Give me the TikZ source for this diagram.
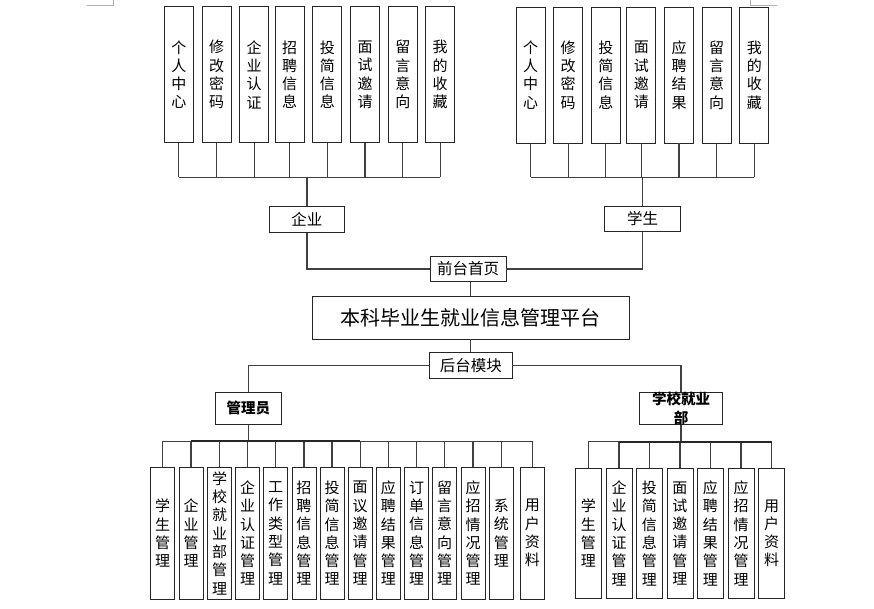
\documentclass[tikz,border=0pt]{standalone}
\usepackage{fontspec}
\setmainfont{Noto Sans CJK SC}
\begin{document}
\begin{tikzpicture}[x=1pt,y=-1pt,
  box/.style={draw=black!85, line width=0.8pt, inner sep=0pt, align=center, fill=white},
  vbox/.style={box, minimum width=29pt, minimum height=136pt, font=\fontsize{15}{18.3}\selectfont},
  bbox/.style={box, minimum width=24pt, minimum height=131.7pt, font=\fontsize{15}{18.3}\selectfont},
  rbox/.style={box, minimum width=26pt, minimum height=130pt, font=\fontsize{15}{18.3}\selectfont},
  hbox/.style={box, font=\fontsize{15.5}{18}\selectfont},
  boldbox/.style={box, minimum height=32pt, font=\fontsize{14.5}{18.5}\selectfont\bfseries},
  conn/.style={draw=black!75, line width=1.2pt},
  thickconn/.style={draw=black!85, line width=1.9pt},
  cornermark/.style={draw=black!30, line width=0.6pt}]
\useasboundingbox (0,0) rectangle (874,609);
\fill[white] (0,0) rectangle (874,609);

% page corner marks
\draw[cornermark] (86.7,5) -- (113.3,5) -- (113.3,0);
\draw[cornermark] (750,0) -- (750,5) -- (776.7,5);

% bus coordinates
\coordinate (busTop) at (0,177.3);
\coordinate (busBL) at (0,441.3);
\coordinate (busBR) at (0,441.7);

% top-left boxes (enterprise)
\node[vbox] (a1) at (178.8,74.7) {个\\人\\中\\心};
\node[vbox] (a2) at (216.7,74.7) {修\\改\\密\\码};
\node[vbox] (a3) at (254.2,74.7) {企\\业\\认\\证};
\node[vbox] (a4) at (289.7,74.7) {招\\聘\\信\\息};
\node[vbox] (a5) at (327.3,74.7) {投\\简\\信\\息};
\node[vbox] (a6) at (365.0,74.7) {面\\试\\邀\\请};
\node[vbox] (a7) at (402.8,74.7) {留\\言\\意\\向};
\node[vbox] (a8) at (440.2,74.7) {我\\的\\收\\藏};

% top-right boxes (student)
\node[vbox] (s1) at (530.5,75) {个\\人\\中\\心};
\node[vbox] (s2) at (568.2,75) {修\\改\\密\\码};
\node[vbox] (s3) at (605.8,75) {投\\简\\信\\息};
\node[vbox] (s4) at (641.3,75) {面\\试\\邀\\请};
\node[vbox] (s5) at (679.0,75) {应\\聘\\结\\果};
\node[vbox] (s6) at (716.7,75) {留\\言\\意\\向};
\node[vbox] (s7) at (754.3,75) {我\\的\\收\\藏};

% middle
\node[hbox, minimum width=75.7pt, minimum height=25.6pt] (qy) at (306.9,219.5) {企业};
\node[hbox, minimum width=76.4pt, minimum height=25.4pt] (xs) at (642.5,219) {学生};
\node[hbox, minimum width=75.7pt, minimum height=25.4pt] (qt) at (468.2,269) {前台首页};
\node[box, minimum width=317pt, minimum height=42.3pt, font=\fontsize{20}{24}\selectfont] (main) at (470.8,317.9) {本科毕业生就业信息管理平台};
\node[hbox, minimum width=82.3pt, minimum height=26pt] (ht) at (470.9,365.7) {后台模块};
\node[boldbox, minimum width=66pt] (gly) at (248.3,408.3) {管理员};
\node[boldbox, minimum width=83.4pt] (xx) at (681,408.3) {学校就业\\部};

% bottom-left boxes (admin)
\node[bbox] (b1) at (162.7,533.2) {学\\生\\管\\理};
\node[bbox] (b2) at (191.0,533.2) {企\\业\\管\\理};
\node[bbox] (b3) at (219.5,533.2) {学\\校\\就\\业\\部\\管\\理};
\node[bbox] (b4) at (247.5,533.2) {企\\业\\认\\证\\管\\理};
\node[bbox] (b5) at (275.7,533.2) {工\\作\\类\\型\\管\\理};
\node[bbox] (b6) at (303.9,533.2) {招\\聘\\信\\息\\管\\理};
\node[bbox] (b7) at (332.0,533.2) {投\\简\\信\\息\\管\\理};
\node[bbox] (b8) at (360.2,533.2) {面\\议\\邀\\请\\管\\理};
\node[bbox] (b9) at (388.3,533.2) {应\\聘\\结\\果\\管\\理};
\node[bbox] (b10) at (416.5,533.2) {订\\单\\信\\息\\管\\理};
\node[bbox] (b11) at (444.7,533.2) {留\\言\\意\\向\\管\\理};
\node[bbox] (b12) at (473.0,533.2) {应\\招\\情\\况\\管\\理};
\node[bbox] (b13) at (501.3,533.2) {系\\统\\管\\理};
\node[bbox] (b14) at (532.3,533.2) {用\\户\\资\\料};

% bottom-right boxes (school employment office)
\node[rbox] (c1) at (588.3,533.3) {学\\生\\管\\理};
\node[rbox] (c2) at (619.0,533.3) {企\\业\\认\\证\\管\\理};
\node[rbox] (c3) at (649.3,533.3) {投\\简\\信\\息\\管\\理};
\node[rbox] (c4) at (679.9,533.3) {面\\试\\邀\\请\\管\\理};
\node[rbox] (c5) at (710.3,533.3) {应\\聘\\结\\果\\管\\理};
\node[rbox] (c6) at (741.0,533.3) {应\\招\\情\\况\\管\\理};
\node[rbox] (c7) at (771.7,533.3) {用\\户\\资\\料};

% connectors: top-left
\foreach \n in {a1,a2,a3,a4,a5,a6,a7,a8}
  \draw[conn] (\n.south) -- (\n.south |- busTop);
\draw[conn] (a1.south |- busTop) -- (a8.south |- busTop);
\draw[conn] (qy.north) -- (qy.north |- busTop);

% connectors: top-right
\foreach \n in {s1,s2,s3,s4,s5,s6,s7}
  \draw[conn] (\n.south) -- (\n.south |- busTop);
\draw[conn] (s1.south |- busTop) -- (s7.south |- busTop);
\draw[conn] (xs.north) -- (xs.north |- busTop);

% middle connectors
\draw[conn] (qy.south) |- (qt.west);
\draw[conn] (xs.south) |- (qt.east);
\draw[conn] (main.north) -- (main.north |- qt.south);
\draw[conn] (main.south) -- (main.south |- ht.north);
\draw[conn] (ht.west) -| (gly.north);
\draw[conn] (ht.east) -| (xx.north);

% bottom-left connectors
\draw[conn] (gly.south) -- (gly.south |- busBL);
\foreach \n in {b1,b2,b3,b4,b5,b6,b7,b8,b9,b10,b11,b12,b13,b14}
  \draw[conn] (\n.north) -- (\n.north |- busBL);
\draw[conn] (b1.north |- busBL) -- (b14.north |- busBL);
\draw[thickconn] (b2.north |- busBL) -- (b8.north |- busBL);

% bottom-right connectors
\draw[conn] (xx.south) -- (xx.south |- busBR);
\foreach \n in {c1,c2,c3,c4,c5,c6,c7}
  \draw[conn] (\n.north) -- (\n.north |- busBR);
\draw[conn] (c1.north |- busBR) -- (c7.north |- busBR);
\draw[thickconn] (c2.north |- busBR) -- (c7.north |- busBR);
\end{tikzpicture}
\end{document}
